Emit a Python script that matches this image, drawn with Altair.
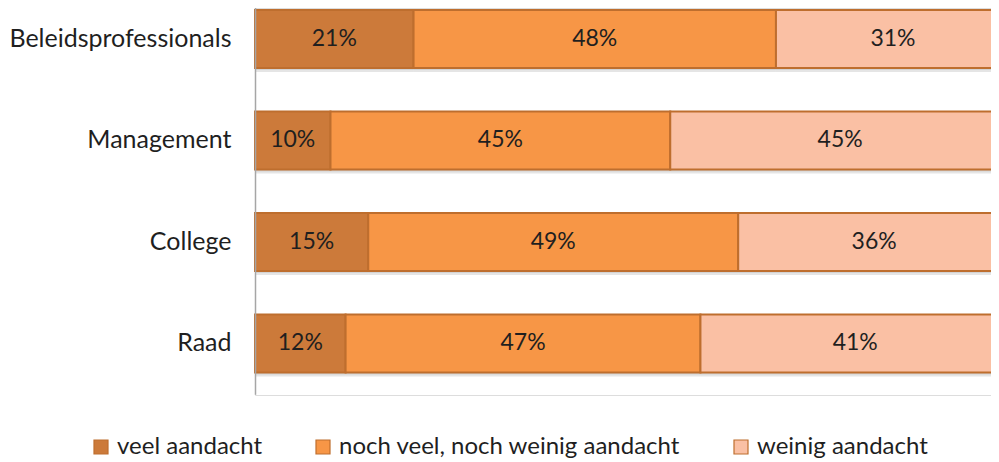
import altair as alt
import pandas as pd

categories = ["Beleidsprofessionals", "Management", "College", "Raad"]
series = ["veel aandacht", "noch veel, noch weinig aandacht", "weinig aandacht"]
veel = [21, 10, 15, 12]
noch = [48, 45, 49, 47]
weinig = [31, 45, 36, 41]
colors = ["#CC7A3A", "#F79646", "#FAC0A4"]

rows = []
for i, c in enumerate(categories):
    for j, (s, vals) in enumerate(zip(series, [veel, noch, weinig])):
        rows.append({"groep": c, "reeks": s, "orde": j, "waarde": vals[i]})
df = pd.DataFrame(rows)

FONT = "Lato"
FS = 23
FS_AX = 25
FS_LEG = 24

y_enc = alt.Y("groep:N", sort=categories,
              scale=alt.Scale(range=[-19.8, 386.2], paddingInner=0.43, paddingOuter=0.215),
              axis=alt.Axis(title=None, labelFont=FONT, labelFontSize=FS_AX, labelColor="#1f1f1f",
                            labelPadding=24, labelLimit=400, ticks=False, domainColor="#A6A6A6",
                            domainWidth=1.5, grid=False))

base = alt.Chart(df).transform_stack(
    stack="waarde", groupby=["groep"], as_=["x0", "x1"], sort=[alt.SortField("orde")]
).transform_calculate(mid="(datum.x0 + datum.x1) / 2", lab="datum.waarde + '%'")

x_scale = alt.Scale(domain=[0, 100], nice=False, zero=True, range=[0, 755])

shadow = base.mark_rect(color="#000000", opacity=0.10, yOffset=4).encode(
    x=alt.X("x0:Q", scale=x_scale, axis=None), x2="x1:Q", y=y_enc)
shadow2 = base.mark_rect(color="#000000", opacity=0.08, yOffset=2).encode(
    x=alt.X("x0:Q", scale=x_scale, axis=None), x2="x1:Q", y=y_enc)

bars = base.mark_rect(stroke="#BE6E2E", strokeWidth=2).encode(
    x=alt.X("x0:Q", scale=x_scale, axis=None),
    x2="x1:Q",
    y=y_enc,
    color=alt.Color("reeks:N", sort=series,
                    scale=alt.Scale(domain=series, range=colors),
                    legend=alt.Legend(title=None, orient="none", legendX=-166, legendY=427,
                                      direction="horizontal", columns=3, columnPadding=48,
                                      symbolType="square", symbolSize=196, symbolStrokeColor="#BE6E2E",
                                      symbolStrokeWidth=1.2, labelFont=FONT, labelFontSize=FS_LEG,
                                      labelColor="#1f1f1f", labelOffset=4, labelLimit=600)),
)

text = base.mark_text(font=FONT, fontSize=FS, color="#1f1f1f").encode(
    x=alt.X("mid:Q", scale=x_scale, axis=None),
    y=y_enc,
    text="lab:N",
)

chart = alt.layer(shadow, shadow2, bars, text).properties(
    width=736, height=387,
    autosize=alt.AutoSizeParams(type="none"),
    padding={"left": 247, "top": 0, "right": 0, "bottom": 66},
).configure_view(fill="#FCEEEA", stroke=None).configure(background="#FFFFFF")

chart.save("out.html", embed_options={"renderer": "svg", "actions": False})
